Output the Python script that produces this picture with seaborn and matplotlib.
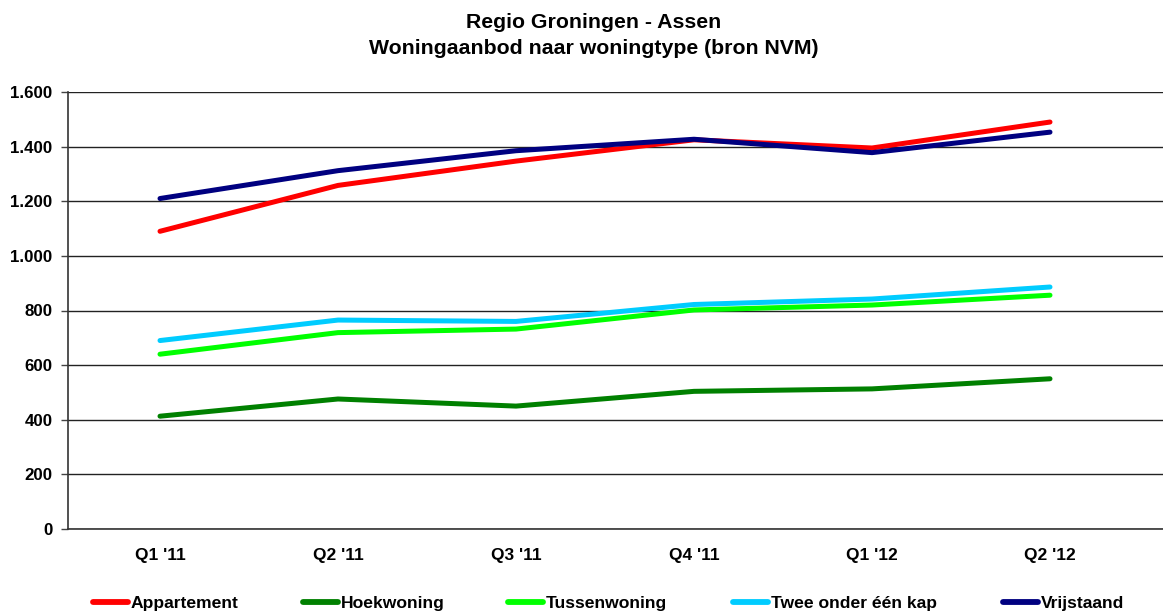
import matplotlib
matplotlib.use("Agg")
import matplotlib.pyplot as plt
from matplotlib.ticker import FuncFormatter, FixedLocator
import seaborn as sns
import pandas as pd

quarters = ["Q1 '11", "Q2 '11", "Q3 '11", "Q4 '11", "Q1 '12", "Q2 '12"]
appartement = [1090, 1258, 1347, 1425, 1395, 1490]
hoekwoning = [413, 476, 450, 504, 513, 550]
tussenwoning = [640, 719, 732, 802, 820, 856]
twee_onder_een_kap = [690, 765, 760, 822, 842, 886]
vrijstaand = [1210, 1312, 1385, 1427, 1378, 1453]

series_names = ["Appartement", "Hoekwoning", "Tussenwoning", "Twee onder één kap", "Vrijstaand"]
series_values = [appartement, hoekwoning, tussenwoning, twee_onder_een_kap, vrijstaand]
colors = ["#FF0000", "#008000", "#00FF00", "#00CCFF", "#000080"]

rows = []
for name, vals in zip(series_names, series_values):
    for q, v in zip(quarters, vals):
        rows.append({"kwartaal": q, "aantal": v, "type": name})
df = pd.DataFrame(rows)

sns.set_theme(style="white")
plt.rcParams["font.family"] = ["Liberation Sans", "DejaVu Sans"]
plt.rcParams["font.weight"] = "bold"
plt.rcParams["text.color"] = "black"
plt.rcParams["xtick.labelcolor"] = "black"
plt.rcParams["ytick.labelcolor"] = "black"

W, H = 1163, 615
fig = plt.figure(figsize=(W / 100, H / 100), dpi=100)
ax = fig.add_axes([68 / W, 1 - 529 / H, 1 - 68 / W, (529 - 92) / H])

sns.lineplot(data=df, x="kwartaal", y="aantal", hue="type", hue_order=series_names,
             palette=colors, linewidth=3.6, sort=False, ax=ax, legend=False,
             solid_capstyle="round")

ax.set_ylim(0, 1600)
ax.set_yticks(range(0, 1601, 200))
ax.yaxis.set_major_formatter(FuncFormatter(lambda v, p: f"{v:,.0f}".replace(",", ".")))
ax.grid(axis="y", color="#222222", linewidth=1.0)
ax.grid(axis="x", visible=False)
ax.set_axisbelow(True)

ax.set_xlim(-92 / 178, (W - 160) / 178)
ax.set_xticks(range(len(quarters)))
ax.set_xticklabels(quarters)
ax.xaxis.set_minor_locator(FixedLocator([i + 0.5 for i in range(-1, len(quarters))]))
ax.tick_params(axis="x", which="major", length=0, pad=14, labelsize=12.5, labelcolor="black")
ax.tick_params(axis="x", which="minor", length=5, width=1, color="#444444", direction="out")
ax.tick_params(axis="y", which="major", length=5, width=1, color="#444444", direction="out",
               pad=6, labelsize=12.2, left=True, labelcolor="black")
for lab in ax.get_xticklabels() + ax.get_yticklabels():
    lab.set_fontweight("bold")

for side in ["top", "right"]:
    ax.spines[side].set_visible(False)
for side in ["left", "bottom"]:
    ax.spines[side].set_color("#333333")
    ax.spines[side].set_linewidth(1.2)

ax.set_xlabel("")
ax.set_ylabel("")

fig.text(594 / W, 1 - 22 / H, "Regio Groningen - Assen", ha="center", va="center",
         fontsize=15.3, fontweight="bold", color="black")
fig.text(594 / W, 1 - 48 / H, "Woningaanbod naar woningtype (bron NVM)", ha="center", va="center",
         fontsize=15.3, fontweight="bold", color="black")

legend_x = [93, 303, 508, 733, 1003]
for name, color, lx in zip(series_names, colors, legend_x):
    handle = plt.Line2D([], [], color=color, linewidth=4.2, solid_capstyle="round")
    fig.legend(handles=[handle], labels=[name], loc="center left",
               bbox_to_anchor=(lx / W, 1 - 603 / H), frameon=False, borderpad=0,
               borderaxespad=0, handlelength=2.0, handletextpad=0.15,
               prop={"weight": "bold", "size": 12.6}, labelcolor="black")

fig.savefig("out.png", dpi=100)
